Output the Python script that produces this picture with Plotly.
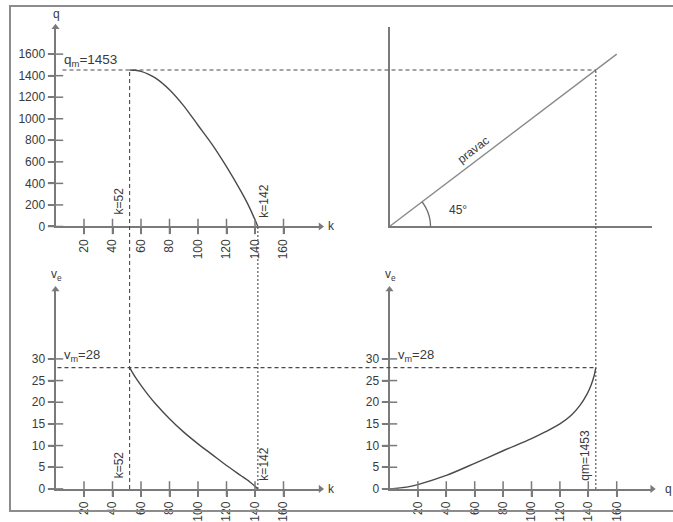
import numpy as np
import plotly.graph_objects as go

# ---------------- data ----------------
# congested branch: density k (veh/km), flow q (veh/h), speed v (km/h)
K_VALUES = [52, 56, 60, 65, 70, 80, 90, 100, 110, 120, 130, 136, 142]
Q_OF_K = [1453, 1450, 1440, 1415, 1380, 1270, 1120, 940, 760, 555, 330, 180, 0]
V_OF_K = [28, 25.8, 23.9, 21.7, 19.7, 16.2, 13.1, 10.4, 7.9, 5.4, 3.1, 1.7, 0]

# speed as a function of flow
Q_FLOW = [0, 120, 200, 400, 600, 800, 1000, 1100, 1200, 1280, 1340, 1390, 1420, 1440, 1453]
V_OF_Q = [0, 0.4, 1.0, 3.1, 5.9, 8.8, 11.6, 13.2, 15.0, 17.0, 19.2, 21.8, 24.0, 26.0, 28]

# 45 degree transfer line (q -> q)
DIAG_Q = [0, 1600]

Q_M = 1453
V_M = 28
K_M = 52
K_J = 142

K_TICKS = [20, 40, 60, 80, 100, 120, 140, 160]
Q_TICKS = [0, 200, 400, 600, 800, 1000, 1200, 1400, 1600]
V_TICKS = [0, 5, 10, 15, 20, 25, 30]
QH_TICKS = [200, 400, 600, 800, 1000, 1200, 1400, 1600]
QH_TICKTEXT = ["20", "40", "60", "80", "100", "120", "140", "160"]

# ---------------- layout geometry (pixels) ----------------
W, H = 673, 522
LX0, LSX, LXR = 55.5, 1.425, [0, 186]      # left panels, k axis
RX0, RSX, RXR = 389.5, 0.142, [0, 1850]    # right panels, q axis
TY0, TSY, TYR = 230.0, 0.1094, [0, 1850]   # top panels, q axis
BY0, BSY, BYR = 496.5, 4.4, [0, 46]        # bottom panels, v axis


def xdom(x0, s, r):
    return [x0 / W, (x0 + s * (r[1] - r[0])) / W]


def ydom(y0, s, r):
    return [1 - y0 / H, 1 - (y0 - s * (r[1] - r[0])) / H]


def px(v):
    return v / W


def py(v):
    return 1 - v / H


INK = "#3a3a3a"
AXC = "#7a7a7a"
FONT = "Liberation Sans, Arial, sans-serif"

fig = go.Figure()

# curves
fig.add_trace(go.Scatter(x=K_VALUES, y=Q_OF_K, mode="lines", xaxis="x", yaxis="y",
                         line=dict(color="#4a4a4a", width=1.4, shape="spline", smoothing=0.8)))
fig.add_trace(go.Scatter(x=DIAG_Q, y=DIAG_Q, mode="lines", xaxis="x2", yaxis="y2",
                         line=dict(color="#8a8a8a", width=1.4), cliponaxis=False))
fig.add_trace(go.Scatter(x=K_VALUES, y=V_OF_K, mode="lines", xaxis="x3", yaxis="y3",
                         line=dict(color="#4a4a4a", width=1.4, shape="spline", smoothing=0.8)))
fig.add_trace(go.Scatter(x=Q_FLOW, y=V_OF_Q, mode="lines", xaxis="x4", yaxis="y4",
                         line=dict(color="#4a4a4a", width=1.4, shape="spline", smoothing=0.8)))


def tick_marks(xa, ya, xs, ys, sym):
    fig.add_trace(go.Scatter(x=xs, y=ys, mode="markers", xaxis=xa, yaxis=ya,
                             cliponaxis=False, hoverinfo="skip",
                             marker=dict(symbol=sym, size=11,
                                         line=dict(color=AXC, width=1.5))))


# inner halves of the crossing ticks
tick_marks("x", "y", K_TICKS, [0] * len(K_TICKS), "line-ns")
tick_marks("x", "y", [0] * len(Q_TICKS), Q_TICKS, "line-ew")
tick_marks("x3", "y3", K_TICKS, [0] * len(K_TICKS), "line-ns")
tick_marks("x3", "y3", [0] * len(V_TICKS), V_TICKS, "line-ew")
tick_marks("x4", "y4", QH_TICKS, [0] * len(QH_TICKS), "line-ns")
tick_marks("x4", "y4", [0] * len(V_TICKS), V_TICKS, "line-ew")


def arrow(xa, ya, x, y, sym):
    fig.add_trace(go.Scatter(x=[x], y=[y], mode="markers", xaxis=xa, yaxis=ya,
                             cliponaxis=False, hoverinfo="skip",
                             marker=dict(symbol=sym, size=7, color=AXC)))


arrow("x", "y", LXR[1], 0, "triangle-right")
arrow("x", "y", 0, TYR[1], "triangle-up")
arrow("x3", "y3", LXR[1], 0, "triangle-right")
arrow("x3", "y3", 0, BYR[1], "triangle-up")
arrow("x4", "y4", RXR[1], 0, "triangle-right")
arrow("x4", "y4", 0, BYR[1], "triangle-up")

tickfont = dict(family=FONT, size=12, color=INK)


def axis(domain, rng, anchor, ticks=None, text=None, angle=None):
    d = dict(domain=domain, range=rng, anchor=anchor, showgrid=False, zeroline=False,
             showline=True, linecolor=AXC, linewidth=2, fixedrange=True)
    if ticks is None:
        d.update(showticklabels=False, ticks="")
    else:
        d.update(tickmode="array", tickvals=ticks, ticks="outside", ticklen=6,
                 tickwidth=1.5, tickcolor=AXC, tickfont=tickfont)
        if text is not None:
            d["ticktext"] = text
        if angle is not None:
            d["tickangle"] = angle
    return d


fig.update_layout(
    width=W, height=H, autosize=False,
    margin=dict(l=0, r=0, t=0, b=0),
    paper_bgcolor="white", plot_bgcolor="rgba(0,0,0,0)",
    showlegend=False, font=dict(family=FONT, color=INK),
    xaxis=axis(xdom(LX0, LSX, LXR), LXR, "y", K_TICKS, angle=-90),
    yaxis=axis(ydom(TY0, TSY, TYR), TYR, "x", Q_TICKS),
    xaxis2=axis(xdom(RX0, RSX, RXR), RXR, "y2"),
    yaxis2=axis(ydom(TY0, TSY, TYR), TYR, "x2"),
    xaxis3=axis(xdom(LX0, LSX, LXR), LXR, "y3", K_TICKS, angle=-90),
    yaxis3=axis(ydom(BY0, BSY, BYR), BYR, "x3", V_TICKS),
    xaxis4=axis(xdom(RX0, RSX, RXR), RXR, "y4", QH_TICKS, QH_TICKTEXT, angle=-90),
    yaxis4=axis(ydom(BY0, BSY, BYR), BYR, "x4", V_TICKS),
)

dash = dict(color="#4a4a4a", width=1.1, dash="4px,3px")
dot = dict(color="#4a4a4a", width=1.1, dash="2px,2px")

# pixel positions of the characteristic values
q_top_px = TY0 - TSY * Q_M
v_bot_px = BY0 - BSY * V_M
q_right_px = RX0 + RSX * Q_M

shapes = [
    # outer frame
    dict(type="rect", xref="paper", yref="paper", x0=px(10), x1=px(690),
         y0=py(519), y1=py(6), line=dict(color="#8c8c8c", width=2)),
    # q = q_m carried across to the 45 degree line
    dict(type="line", xref="paper", yref="y", x0=px(LX0 + 7), x1=px(q_right_px),
         y0=Q_M, y1=Q_M, line=dash),
    # k = k_m from q_m down to the bottom k axis
    dict(type="line", xref="x", yref="paper", x0=K_M, x1=K_M,
         y0=py(BY0), y1=py(q_top_px), line=dash),
    # k = k_j
    dict(type="line", xref="x", yref="paper", x0=K_J, x1=K_J,
         y0=py(BY0), y1=py(TY0), line=dot),
    # v = v_m carried across to the q-v curve
    dict(type="line", xref="paper", yref="y3", x0=px(LX0 + 2), x1=px(q_right_px),
         y0=V_M, y1=V_M, line=dash),
    # q = q_m dropped from the 45 degree line to the q axis
    dict(type="line", xref="x2", yref="paper", x0=Q_M, x1=Q_M,
         y0=py(BY0), y1=py(q_top_px), line=dot),
]

# 45 degree angle arc at the origin of the transfer panel
ang_end = np.arctan2(TSY * DIAG_Q[1], RSX * DIAG_Q[1])
t = np.linspace(0, ang_end, 24)
r = 41
pts = [(px(RX0 + r * np.cos(a)), py(TY0 - r * np.sin(a))) for a in t]
path = "M " + " L ".join(f"{a:.5f},{b:.5f}" for a, b in pts)
shapes.append(dict(type="path", xref="paper", yref="paper", path=path,
                   line=dict(color="#6a6a6a", width=1.3)))
fig.update_layout(shapes=shapes)


def note(text, x, y, size=12, angle=0, xanchor="center", yanchor="middle"):
    return dict(text=text, x=x, y=y, xref="paper", yref="paper", showarrow=False,
                textangle=angle, xanchor=xanchor, yanchor=yanchor,
                font=dict(family=FONT, size=size, color=INK))


diag_deg = float(np.degrees(ang_end))
annotations = [
    note("q", px(56), py(14)),
    note("k", px(331), py(TY0)),
    note("k", px(331), py(BY0)),
    note("q", px(668), py(BY0)),
    note("v<sub>e</sub>", px(56), py(279)),
    note("v<sub>e</sub>", px(390), py(279)),
    note(f"q<sub>m</sub>={Q_M}", px(62), py(q_top_px - 10), size=13.5, xanchor="left"),
    note(f"v<sub>m</sub>={V_M}", px(62), py(v_bot_px - 12), size=13, xanchor="left"),
    note(f"v<sub>m</sub>={V_M}", px(396), py(v_bot_px - 12), size=13, xanchor="left"),
    note(f"k={K_M}", px(LX0 + LSX * K_M - 11), py(204), angle=-90),
    note(f"k={K_J}", px(LX0 + LSX * K_J + 6), py(204), angle=-90),
    note(f"k={K_M}", px(LX0 + LSX * K_M - 11), py(472), angle=-90),
    note(f"k={K_J}", px(LX0 + LSX * K_J + 6), py(471), angle=-90),
    note(f"qm={Q_M}", px(q_right_px - 11), py(462), angle=-90),
    note("45°", px(447), py(213), xanchor="left"),
    note("pravac", px(473), py(152), angle=-diag_deg),
]
fig.update_layout(annotations=annotations)

fig.write_html("out.html")
